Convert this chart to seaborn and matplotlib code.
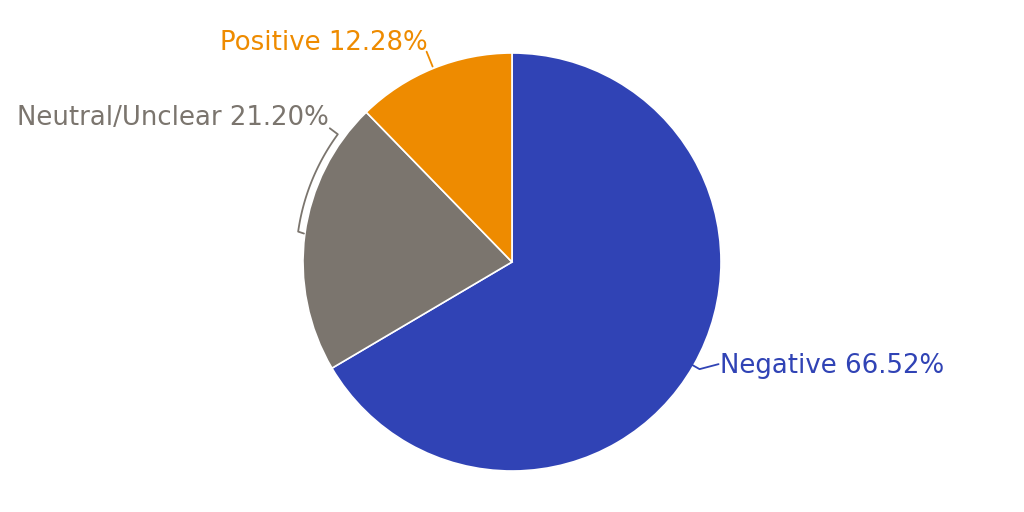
import numpy as np
import matplotlib
matplotlib.use("Agg")
import matplotlib.pyplot as plt
import seaborn as sns

categories = ["Negative", "Neutral/Unclear", "Positive"]
shares = [66.52, 21.20, 12.28]
colors = ["#3043B5", "#7B756E", "#EE8B00"]

sns.set_theme(style="white")
plt.rcParams["font.family"] = ["DejaVu Sans"]

fig = plt.figure(figsize=(10.24, 5.12), dpi=100)
ax = fig.add_axes([0, 0, 1, 1])

cx, cy, R = 512, 250, 209
wedges, _ = ax.pie(shares, colors=colors, startangle=90, counterclock=False,
                   center=(cx, cy), radius=R,
                   wedgeprops=dict(edgecolor="white", linewidth=1.2))
ax.set_xlim(0, 1024)
ax.set_ylim(0, 512)
ax.set_aspect("equal")
ax.axis("off")

def pt(ang, r):
    a = np.deg2rad(ang)
    return cx + r * np.cos(a), cy + r * np.sin(a)

fs = 18.7
lw = 1.3
for w, cat, val, col in zip(wedges, categories, shares, colors):
    t1, t2 = w.theta1, w.theta2
    mid = (t1 + t2) / 2
    label = f"{cat} {val:.2f}%"
    if cat == "Negative":
        p0 = pt(mid, R - 1)
        p1 = pt(mid, R + 7)
        p2 = (p1[0] + 19, p1[1] + 5)
        ax.plot([p0[0], p1[0], p2[0]], [p0[1], p1[1], p2[1]], color=col, lw=lw)
        ax.text(p2[0] + 1, p2[1] - 2, label, color=col, fontsize=fs, ha="left", va="center")
    elif cat == "Positive":
        p0 = pt(mid, R + 2)
        p1 = pt(mid, R + 18)
        ax.plot([p0[0], p1[0]], [p0[1], p1[1]], color=col, lw=lw)
        ax.text(p1[0] + 1, p1[1] + 9, label, color=col, fontsize=fs, ha="right", va="center")
    else:
        lo, hi = min(t1, t2), max(t1, t2)
        span = hi - lo
        a_top = lo + 0.125 * span
        a_bot = lo + 0.494 * span
        angs = np.linspace(a_top, a_bot, 40)
        xs = [cx + (R + 7) * np.cos(np.deg2rad(a)) for a in angs]
        ys = [cy + (R + 7) * np.sin(np.deg2rad(a)) for a in angs]
        tail = pt(a_bot + 0.3, R + 1)
        head = (xs[0] - 8, ys[0] + 6)
        ax.plot([head[0]] + xs + [tail[0]], [head[1]] + ys + [tail[1]], color=col, lw=lw)
        ax.text(head[0] - 1, head[1] + 10, label, color=col, fontsize=fs, ha="right", va="center")

fig.savefig("out.png", dpi=100, facecolor="white")
